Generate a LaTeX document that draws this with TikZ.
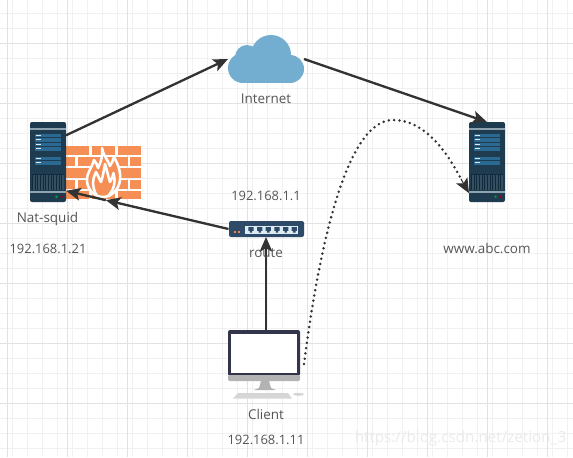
\documentclass[tikz,border=0pt]{standalone}
\usepackage{fontspec}
\setmainfont{Open Sans}
\usetikzlibrary{arrows.meta,calc}
\definecolor{gridminor}{HTML}{F1F1F1}
\definecolor{gridmajor}{HTML}{E2E2E2}
\definecolor{srvbody}{HTML}{1E3B4F}
\definecolor{srvband}{HTML}{8FA3AE}
\definecolor{srvrow}{HTML}{2A6A92}
\definecolor{srvgrille}{HTML}{10293C}
\definecolor{brick}{HTML}{F58F55}
\definecolor{cloudblue}{HTML}{73ADCF}
\definecolor{swblue}{HTML}{2D4B69}
\definecolor{swpanel}{HTML}{DCEAF2}
\definecolor{bezel}{HTML}{33364A}
\definecolor{chin}{HTML}{B3B3B3}
\definecolor{txt}{HTML}{555555}
\definecolor{wire}{HTML}{333333}
\definecolor{wm}{HTML}{EBEBEB}
\tikzset{
  x=0.75pt,y=-0.75pt,
  num text/.style={inner sep=0pt,text=txt,font=\fontsize{9.7pt}{11pt}\selectfont,anchor=base},
  word text/.style={inner sep=0pt,text=txt,font=\fontsize{10.1pt}{12pt}\selectfont,anchor=base},
  hitbox/.style={inner sep=0pt,outer sep=0pt},
  wirel/.style={draw=wire,line width=1.75pt},
  arrowed/.style={wirel,-{Stealth[length=11pt,width=9.5pt,inset=2.5pt]}},
}
\newcommand{\serverat}[2]{%
\begin{scope}[shift={(#1,#2)}]
  \fill[srvbody,rounded corners=1.5pt] (0,0) rectangle (36,80);
  \fill[srvband] (0,6) rectangle (36,8);
  \foreach \yy in {11.5,16,20.5,25,34.5,39}{
    \fill[srvrow] (5,\yy) rectangle (31,\yy+3.6);
    \fill[white!85!srvrow] (6,\yy+1.3) rectangle (10.5,\yy+2.3);
  }
  \fill[srvgrille] (2,52) rectangle (34,68);
  \foreach \xx in {3,4.6,...,33.5}{\draw[srvbody!90!white,line width=0.35pt] (\xx,53) -- (\xx,68);}
  \fill[srvband] (0,68.5) rectangle (36,70.5);
  \fill[green!55!black!80!cyan] (26.5,74.7) circle (1.3);
  \fill[red!60!black!90!magenta] (31.5,74.7) circle (1.3);
\end{scope}}
\begin{document}
\begin{tikzpicture}
\useasboundingbox (0,0) rectangle (573,457);
\fill[white] (0,0) rectangle (573,457);
% grid
\foreach \xx in {-2.3,12.7,...,573}{\draw[gridminor,line width=1pt] (\xx,0) -- (\xx,457);}
\foreach \yy in {-1.7,13.3,...,457}{\draw[gridminor,line width=1pt] (0,\yy) -- (573,\yy);}
\foreach \xx in {7.7,67.7,...,573}{\draw[gridmajor,line width=1pt] (\xx,0) -- (\xx,457);}
\foreach \yy in {43.3,103.3,...,457}{\draw[gridmajor,line width=1pt] (0,\yy) -- (573,\yy);}
% watermark
\node[inner sep=0pt,text=wm,font=\fontsize{11.4pt}{14pt}\selectfont,anchor=center] (mark) at (460.5,439) {https://blog.csdn.net/zetion\_3};
% firewall
\fill[brick] (66,146) rectangle (141,154.5);
\fill[brick] (66,156.5) rectangle (141,166);
\fill[brick] (66,168) rectangle (141,178);
\fill[brick] (66,180) rectangle (141,188.5);
\fill[brick] (66,190.5) rectangle (141,199);
\foreach \yy/\yb in {146/154.5,168/178,190.5/199}{
  \draw[white,line width=1.7pt] (90.5,\yy) -- (90.5,\yb) (116.5,\yy) -- (116.5,\yb);}
\foreach \yy/\yb in {156.5/166,180/188.5}{
  \draw[white,line width=1.7pt] (76.5,\yy) -- (76.5,\yb) (103.5,\yy) -- (103.5,\yb) (129,\yy) -- (129,\yb);}
\filldraw[fill=brick,draw=white,line width=1.9pt,line join=round]
  (102,148) .. controls (103,155) and (108,160) .. (110,166)
  .. controls (112,163) and (113,160) .. (114,157)
  .. controls (118,164) and (121,172) .. (120,180)
  .. controls (119,190) and (111,197) .. (103,197)
  .. controls (95,197) and (87,190) .. (87,180)
  .. controls (87,172) and (92,168) .. (94,160)
  .. controls (96,162) and (97,165) .. (98,168)
  .. controls (101,162) and (103,155) .. (102,148) -- cycle;
\draw[white,line width=1.9pt,line join=round]
  (97,196) .. controls (91,186) and (93,178) .. (96,172)
  .. controls (98,176) and (99,178) .. (101,182)
  .. controls (103,176) and (104,170) .. (105,164)
  .. controls (107,170) and (108,176) .. (110,182)
  .. controls (112,178) and (113,176) .. (113.5,173)
  .. controls (116,182) and (114,190) .. (108,196);
% servers
\serverat{30}{122}
\serverat{469}{122}
% cloud
\fill[cloudblue] (243,68) circle (15) (247,57) circle (12) (271,55) circle (20) (290,69) circle (14);
\fill[cloudblue] (243,62) rectangle (290,83);
% switch
\fill[swblue,rounded corners=1.5pt] (229,221) rectangle (304,237);
\fill[swpanel] (245,226) rectangle (298,234.3);
\foreach \xx in {251,259.7,268.3,277,285.7,294.3}{
  \fill[swblue] (\xx-2.6,227.2) -- (\xx+2.6,227.2) -- (\xx+2.6,230.8) -- (\xx+1.2,230.8) -- (\xx+1.2,232.6) -- (\xx-1.2,232.6) -- (\xx-1.2,230.8) -- (\xx-2.6,230.8) -- cycle;}
\fill[brick!90!red] (233.5,230.5) rectangle (236.2,233);
\fill[brick!90!red] (237.7,230.5) rectangle (240.4,233);
% client
\fill[bezel,rounded corners=1.5pt] (228,330) rectangle (300,376);
\fill[white] (230.5,333.5) rectangle (297,372.5);
\fill[chin,rounded corners=1pt] (228,375) rectangle (300,381);
\fill[chin] (261,381) -- (269,381) -- (271,388) -- (276,390) -- (254,390) -- (259,388) -- cycle;
\fill[black!16] (238,393) -- (288,393) -- (292,398.5) -- (233,398.5) -- cycle;
\fill[black!16] (298.5,394.3) ellipse (5.5 and 1.5);
% invisible boxes named for the connectors
\node[hitbox,minimum width=27pt,minimum height=60pt] (nat) at (48,162) {};
\node[hitbox,minimum width=27pt,minimum height=60pt] (www) at (487,162) {};
\node[hitbox,minimum width=57pt,minimum height=36pt] (cloud) at (266,59) {};
\node[hitbox,minimum width=56.25pt,minimum height=12pt] (sw) at (266,229) {};
\node[hitbox,minimum width=57pt,minimum height=51pt] (client) at (266,364) {};
% connectors
\coordinate (midp) at ($(sw.west)!0.755!(nat.-58)$);
\draw[arrowed] (nat.56) -- (cloud.west);
\draw[arrowed] (cloud.east) -- (www.north);
\draw[arrowed] (sw.west) -- (midp);
\draw[arrowed] (midp) -- (nat.-58);
\draw[arrowed] (client.north) -- (sw.south);
\draw[draw=wire,line width=2.1pt,line cap=round,dash pattern=on 0pt off 4pt]
  (client.east) .. controls (318,255) and (345,120) .. (393,120)
  .. controls (425,120) and (447,152) .. (461,179);
\draw[wirel,-{Stealth[length=11pt,width=9.5pt,inset=2.5pt]},line width=0.8pt] (461,179) -- (www.240);
% labels
\node[word text] (l1) at (266,103) {Internet};
\node[word text] (l2) at (47.5,222) {Nat-squid};
\node[num text] (l3) at (48,253) {192.168.1.21};
\node[num text] (l4) at (266,200) {192.168.1.1};
\node[word text] (l5) at (266,257) {route};
\node[word text] (l6) at (487,253) {www.abc.com};
\node[word text] (l7) at (266,419) {Client};
\node[num text] (l8) at (266,444) {192.168.1.11};
\end{tikzpicture}
\end{document}
